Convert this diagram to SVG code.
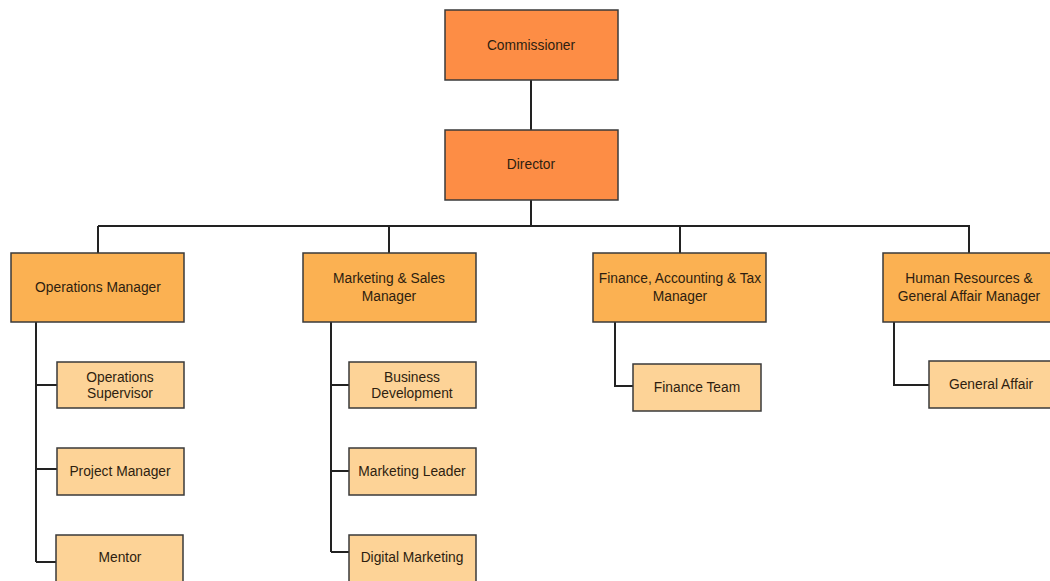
<svg xmlns="http://www.w3.org/2000/svg" width="1050" height="581" viewBox="0 0 1050 581">
<style>
text{font-family:"Liberation Sans",Arial,sans-serif;font-size:13.8px;fill:#2e1e10;text-anchor:middle;dominant-baseline:central}
.top{fill:#fd8d45;stroke:#3a3a3a;stroke-width:1.5}
.mgr{fill:#fbb152;stroke:#3a3a3a;stroke-width:1.5}
.sub{fill:#fdd397;stroke:#3a3a3a;stroke-width:1.5}
.conn{fill:none;stroke:#222;stroke-width:2}
</style>
<rect width="1050" height="581" fill="#ffffff"/>
<g id="connectors">
<path class="conn" d="M531 80V130M531 200V226M98 226H970M98 226V253M389 226V253M680 226V253M969 226V253"/>
<path class="conn" d="M36 322V562M36 385H57M36 469H57M36 562H56"/>
<path class="conn" d="M331 322V552M331 385H349M331 471H349M331 552H349"/>
<path class="conn" d="M615 322V386H633"/>
<path class="conn" d="M894 322V385H929"/>
</g>
<g id="commissioner"><rect class="top" x="445" y="10" width="173" height="70"/><text x="531" y="45">Commissioner</text></g>
<g id="director"><rect class="top" x="445" y="130" width="173" height="70"/><text x="531" y="164">Director</text></g>
<g id="operations-manager"><rect class="mgr" x="11" y="253" width="173" height="69"/><text x="98" y="287">Operations Manager</text></g>
<g id="marketing-sales-manager"><rect class="mgr" x="303" y="253" width="173" height="69"/><text x="389" y="278">Marketing &amp; Sales</text><text x="389" y="296">Manager</text></g>
<g id="finance-manager"><rect class="mgr" x="593" y="253" width="173" height="69"/><text x="680" y="278">Finance, Accounting &amp; Tax</text><text x="680" y="296">Manager</text></g>
<g id="hr-manager"><rect class="mgr" x="883" y="253" width="172" height="69"/><text x="969" y="278">Human Resources &amp;</text><text x="969" y="296">General Affair Manager</text></g>
<g id="operations-supervisor"><rect class="sub" x="57" y="362" width="127" height="46"/><text x="120" y="377">Operations</text><text x="120" y="393">Supervisor</text></g>
<g id="project-manager"><rect class="sub" x="57" y="448" width="127" height="47"/><text x="120" y="471">Project Manager</text></g>
<g id="mentor"><rect class="sub" x="56" y="535" width="127" height="50"/><text x="120" y="557">Mentor</text></g>
<g id="business-development"><rect class="sub" x="349" y="362" width="127" height="46"/><text x="412" y="377">Business</text><text x="412" y="393">Development</text></g>
<g id="marketing-leader"><rect class="sub" x="349" y="448" width="127" height="47"/><text x="412" y="471">Marketing Leader</text></g>
<g id="digital-marketing"><rect class="sub" x="349" y="535" width="127" height="50"/><text x="412" y="557">Digital Marketing</text></g>
<g id="finance-team"><rect class="sub" x="633" y="364" width="128" height="47"/><text x="697" y="387">Finance Team</text></g>
<g id="general-affair"><rect class="sub" x="929" y="361" width="125" height="47"/><text x="991" y="384">General Affair</text></g>
</svg>
